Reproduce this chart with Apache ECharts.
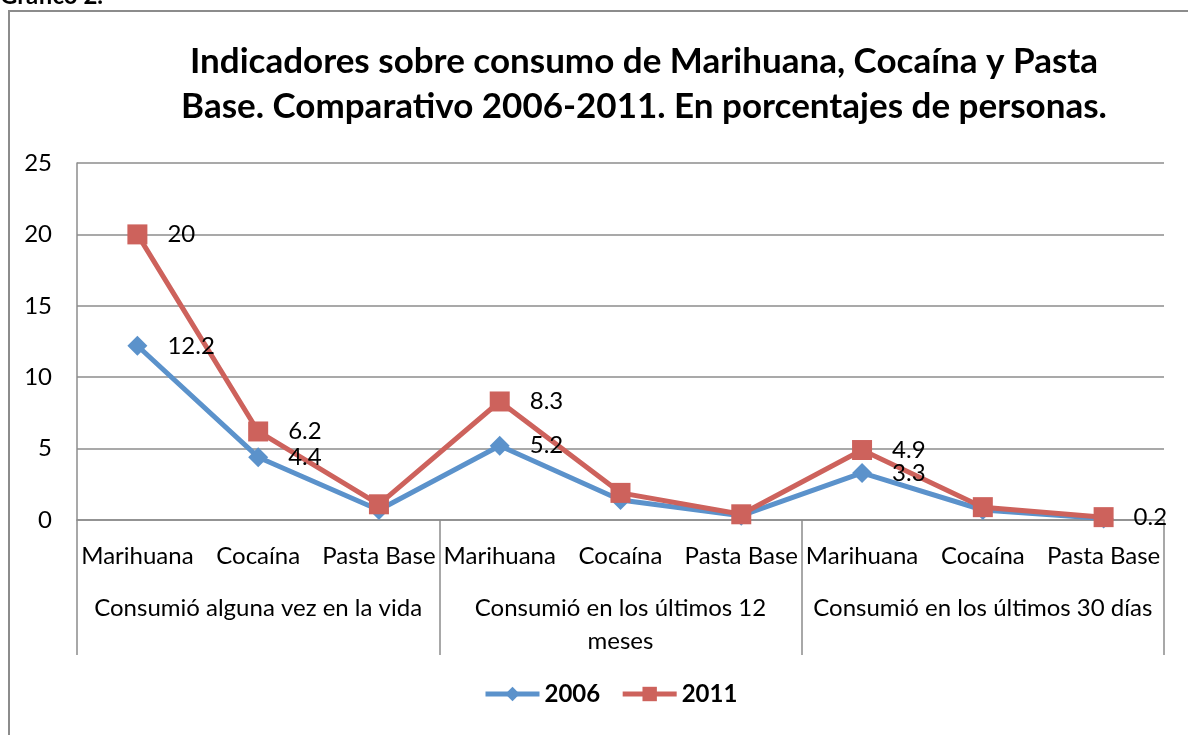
<!DOCTYPE html>
<html>
<head>
<meta charset="utf-8">
<script src="https://cdn.jsdelivr.net/npm/echarts@6/dist/echarts.min.js"></script>
<style>
  html, body { margin: 0; padding: 0; background: #fff; }
  #chart { width: 1188px; height: 735px; }
</style>
</head>
<body>
<div id="chart"></div>
<script>
// categorias (dos niveles)
var substances = ['Marihuana', 'Cocaína', 'Pasta Base', 'Marihuana', 'Cocaína', 'Pasta Base', 'Marihuana', 'Cocaína', 'Pasta Base']
var groups = ['Consumió alguna vez en la vida', 'Consumió en los últimos 12\nmeses', 'Consumió en los últimos 30 días']
// valores
var values2006 = [12.2, 4.4, 0.7, 5.2, 1.4, 0.3, 3.3, 0.7, 0.1]
var values2011 = [20, 6.2, 1.1, 8.3, 1.9, 0.4, 4.9, 0.9, 0.2]
// puntos con etiqueta visible
var labeled2006 = [0, 1, 3, 6]
var labeled2011 = [0, 1, 3, 6, 8]
var yTicks = [0, 5, 10, 15, 20, 25]

var FONT = 'Lato, "Open Sans", sans-serif'
var GRAY = '#8c8c8c'
var FS = 24

function withLabels(values, shown) {
  return values.map(function(v, i) {
    return { value: v, label: { show: shown.indexOf(i) >= 0 } }
  })
}

var myChart = echarts.init(document.getElementById('chart'))

var labelOption = {
  position: 'right',
  distance: 20,
  fontFamily: FONT,
  fontSize: FS,
  color: '#000',
  formatter: '{c}'
}

var option = {
  backgroundColor: '#fff',
  animation: false,
  textStyle: { fontFamily: FONT },
  title: {
    text: 'Indicadores sobre consumo de Marihuana, Cocaína y Pasta\nBase. Comparativo 2006-2011. En porcentajes de personas.',
    left: 639,
    top: 34,
    textAlign: 'center',
    textStyle: {
      fontFamily: FONT,
      fontSize: 35,
      fontWeight: 'bold',
      color: '#000',
      lineHeight: 45
    }
  },
  graphic: [
    {
      type: 'rect',
      shape: { x: 9, y: 11, width: 1300, height: 900 },
      style: { fill: 'none', stroke: GRAY, lineWidth: 2 },
      silent: true
    },
    {
      type: 'text',
      left: 0,
      top: -16,
      style: { text: 'Gráfico 2.', fontFamily: FONT, fontSize: 24, fontWeight: 'bold', fill: '#000' }
    }
  ],
  legend: {
    bottom: 24,
    left: 478,
    itemWidth: 54,
    itemHeight: 18,
    itemGap: 20,
    textStyle: { fontFamily: FONT, fontSize: FS, fontWeight: 'bold', color: '#000' },
    lineStyle: { width: 5 },
    data: ['2006', '2011']
  },
  grid: { left: 77, right: 24, top: 163, bottom: 215 },
  xAxis: [
    {
      type: 'category',
      data: substances,
      boundaryGap: true,
      axisLine: { show: true, lineStyle: { color: GRAY, width: 1.5 } },
      axisTick: { show: false },
      axisLabel: { margin: 24, fontFamily: FONT, fontSize: FS, color: '#000', interval: 0 }
    },
    {
      type: 'category',
      position: 'bottom',
      data: groups,
      boundaryGap: true,
      axisLine: { show: false },
      axisTick: { show: true, length: 135, lineStyle: { color: GRAY, width: 1.5 } },
      axisLabel: { margin: 72, fontFamily: FONT, fontSize: FS, color: '#000', lineHeight: 33, interval: 0 }
    }
  ],
  yAxis: {
    type: 'value',
    min: yTicks[0],
    max: yTicks[yTicks.length - 1],
    interval: 5,
    axisLine: { show: true, lineStyle: { color: GRAY, width: 1.5 } },
    axisTick: { show: false },
    splitLine: { lineStyle: { color: GRAY, width: 1.5 } },
    axisLabel: { margin: 25, fontFamily: FONT, fontSize: FS, color: '#000' }
  },
  series: [
    {
      name: '2006',
      type: 'line',
      xAxisIndex: 0,
      data: withLabels(values2006, labeled2006),
      symbol: 'diamond',
      symbolSize: 20,
      color: '#5b92cb',
      lineStyle: { width: 5, color: '#5b92cb' },
      itemStyle: { color: '#5b92cb' },
      label: labelOption
    },
    {
      name: '2011',
      type: 'line',
      xAxisIndex: 0,
      data: withLabels(values2011, labeled2011),
      symbol: 'rect',
      symbolSize: 20,
      color: '#cd625c',
      lineStyle: { width: 5, color: '#cd625c' },
      itemStyle: { color: '#cd625c' },
      label: labelOption
    }
  ]
}

myChart.setOption(option)
</script>
</body>
</html>
